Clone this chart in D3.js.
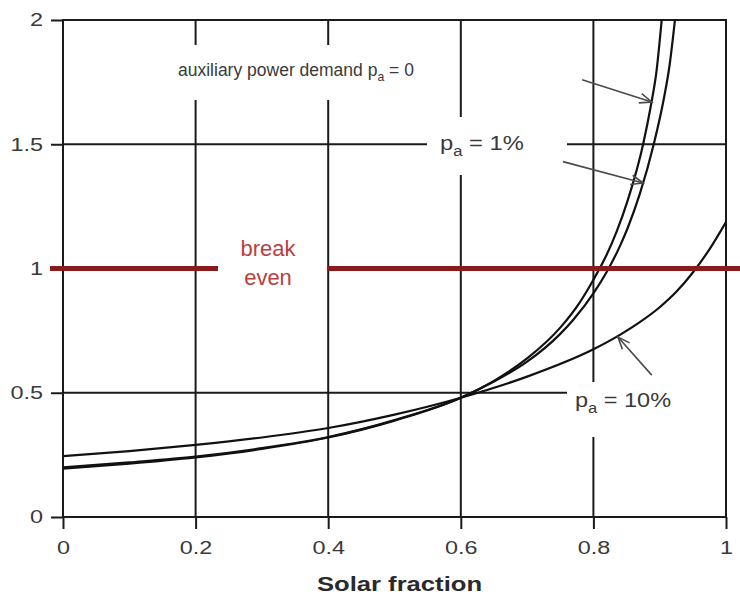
<!DOCTYPE html>
<html>
<head>
<meta charset="utf-8">
<script src="https://cdn.jsdelivr.net/npm/d3@7/dist/d3.min.js"></script>
<style>
  body { margin: 0; background: #fff; }
  text { font-family: "Liberation Sans", Arial, sans-serif; }
</style>
</head>
<body>
<svg id="chart" width="740" height="601"></svg>
<script>
// Axis ticks
const xTicks = [0, 0.2, 0.4, 0.6, 0.8, 1];
const xTickLabels = ["0", "0.2", "0.4", "0.6", "0.8", "1"];
const yTicks = [0, 0.5, 1, 1.5, 2];
const yTickLabels = ["0", "0.5", "1", "1.5", "2"];
const xGrid = [0.2, 0.4, 0.6, 0.8];
const yGrid = [0.5, 1.5];

// Auxiliary power demand p_a = 0
const pa0Fraction = [0, 0.1, 0.2, 0.3, 0.4, 0.5, 0.6, 0.65, 0.7, 0.75, 0.78, 0.8, 0.82, 0.835, 0.852, 0.875, 0.887, 0.895, 0.903];
const pa0Ratio    = [0.195, 0.215, 0.24, 0.274, 0.32, 0.388, 0.48, 0.548, 0.638, 0.762, 0.866, 0.955, 1.055, 1.148, 1.276, 1.5, 1.66, 1.79, 2.0];

// p_a = 1 %
const pa1Fraction = [0, 0.1, 0.2, 0.3, 0.4, 0.5, 0.6, 0.65, 0.7, 0.75, 0.77, 0.8, 0.82, 0.84, 0.852, 0.87, 0.891, 0.906, 0.915, 0.923];
const pa1Ratio    = [0.2, 0.22, 0.243, 0.277, 0.322, 0.39, 0.48, 0.545, 0.625, 0.737, 0.795, 0.9, 0.986, 1.09, 1.165, 1.3, 1.5, 1.68, 1.82, 2.0];

// p_a = 10 %
const pa10Fraction = [0, 0.1, 0.2, 0.3, 0.4, 0.5, 0.6, 0.7, 0.8, 0.84, 0.87, 0.9, 0.925, 0.95, 0.975, 1];
const pa10Ratio    = [0.245, 0.265, 0.29, 0.32, 0.358, 0.412, 0.48, 0.565, 0.675, 0.733, 0.784, 0.844, 0.906, 0.984, 1.077, 1.187];

// Break-even level
const breakEven = 1;

// Arrows pointing from the labels to their curves: [fromX, fromY, toX, toY]
const arrowPa0  = [0.783, 1.76, 0.888, 1.67];
const arrowPa1  = [0.754, 1.43, 0.875, 1.344];
const arrowPa10 = [0.888, 0.571, 0.837, 0.724];

const svg = d3.select("#chart");
const W = 740, H = 601;
const margin = { left: 63, right: 14, top: 20, bottom: 84 };

const x = d3.scaleLinear().domain([0, 1]).range([margin.left, W - margin.right]);
const y = d3.scaleLinear().domain([0, 2]).range([H - margin.bottom, margin.top]);

const ink = "#1a1a1a";
const textGray = "#3a3a3a";

// Widen a text element horizontally while keeping its anchor
function stretch(sel, factor) {
  sel.each(function () {
    const w = this.getComputedTextLength();
    d3.select(this).attr("textLength", w * factor).attr("lengthAdjust", "spacingAndGlyphs");
  });
}

svg.append("defs").append("clipPath").attr("id", "plotClip")
  .append("rect")
  .attr("x", x(0)).attr("y", y(2))
  .attr("width", x(1) - x(0)).attr("height", y(0) - y(2));

// Gridlines
const grid = svg.append("g").attr("stroke", ink).attr("stroke-width", 2);
grid.selectAll("line.vx").data(xGrid).join("line")
  .attr("x1", d => x(d)).attr("x2", d => x(d))
  .attr("y1", y(0)).attr("y2", y(2));
grid.selectAll("line.hy").data(yGrid).join("line")
  .attr("x1", x(0)).attr("x2", x(1))
  .attr("y1", d => y(d)).attr("y2", d => y(d));

// White boxes behind the curve labels
const boxes = [
  [170, 45, 255, 55],
  [427, 117, 140, 58],
  [567, 382, x(1) - 567, 55]
];
svg.append("g").selectAll("rect").data(boxes).join("rect")
  .attr("x", d => d[0]).attr("y", d => d[1])
  .attr("width", d => d[2]).attr("height", d => d[3])
  .attr("fill", "#fff");

// Axes (ticks + labels)
const yAxis = d3.axisLeft(y).tickValues(yTicks)
  .tickFormat((d, i) => yTickLabels[i]).tickSize(12).tickSizeOuter(0).tickPadding(8);
const gy = svg.append("g").attr("transform", `translate(${x(0)},0)`).call(yAxis);
const xAxis = d3.axisBottom(x).tickValues(xTicks)
  .tickFormat((d, i) => xTickLabels[i]).tickSize(12).tickSizeOuter(0).tickPadding(9);
const gx = svg.append("g").attr("transform", `translate(0,${y(0)})`).call(xAxis);
[gx, gy].forEach(g => {
  g.select(".domain").remove();
  g.selectAll(".tick line").attr("stroke", ink).attr("stroke-width", 2);
  g.selectAll(".tick text").attr("fill", textGray)
    .style("font-size", "18px").style("font-family", "Liberation Sans, Arial, sans-serif");
  stretch(g.selectAll(".tick text"), 1.3);
});
gx.selectAll(".tick text").attr("dy", "0.9em");

// Frame
svg.append("rect")
  .attr("x", x(0)).attr("y", y(2))
  .attr("width", x(1) - x(0)).attr("height", y(0) - y(2))
  .attr("fill", "none").attr("stroke", ink).attr("stroke-width", 2);

// Curves
const line = d3.line().x(d => x(d[0])).y(d => y(d[1])).curve(d3.curveMonotoneX);
const series = [
  d3.zip(pa0Fraction, pa0Ratio),
  d3.zip(pa1Fraction, pa1Ratio),
  d3.zip(pa10Fraction, pa10Ratio)
];
svg.append("g").attr("clip-path", "url(#plotClip)")
  .selectAll("path").data(series).join("path")
  .attr("d", line)
  .attr("fill", "none").attr("stroke", "#111").attr("stroke-width", 2.2);

// Break-even line with a gap for its label
svg.append("line")
  .attr("x1", x(0) - 13).attr("x2", W)
  .attr("y1", y(breakEven)).attr("y2", y(breakEven))
  .attr("stroke", "#8a1b1d").attr("stroke-width", 5);
svg.append("rect")
  .attr("x", 218).attr("y", y(breakEven) - 6).attr("width", 109).attr("height", 12)
  .attr("fill", "#fff");
const be = svg.append("text").attr("text-anchor", "middle")
  .attr("fill", "#b8403f").style("font-size", "22px");
be.append("tspan").attr("x", 268).attr("y", 256).text("break");
be.append("tspan").attr("x", 268).attr("y", 285).text("even");

// Arrows
const arrowColor = "#4a4a4a";
function arrow(a) {
  const x1 = x(a[0]), y1 = y(a[1]), x2 = x(a[2]), y2 = y(a[3]);
  const ang = Math.atan2(y2 - y1, x2 - x1);
  const len = 13, spread = 0.38;
  const g = svg.append("g").attr("stroke", arrowColor).attr("stroke-width", 1.6).attr("fill", "none");
  g.append("line").attr("x1", x1).attr("y1", y1).attr("x2", x2).attr("y2", y2);
  const p1 = [x2 - len * Math.cos(ang - spread), y2 - len * Math.sin(ang - spread)];
  const p2 = [x2 - len * Math.cos(ang + spread), y2 - len * Math.sin(ang + spread)];
  g.append("path").attr("d", `M${p1[0]},${p1[1]}L${x2},${y2}L${p2[0]},${p2[1]}`);
}
[arrowPa0, arrowPa1, arrowPa10].forEach(arrow);

// Curve labels
function paLabel(px, py, size, prefix, suffix, widen) {
  const t = svg.append("text").attr("x", px).attr("y", py)
    .attr("fill", textGray).style("font-size", size + "px");
  t.append("tspan").text(prefix + "p");
  t.append("tspan").attr("dy", size * 0.3).style("font-size", (size * 0.7) + "px").text("a");
  t.append("tspan").attr("dy", -size * 0.3).text(suffix);
  if (widen !== 1) stretch(t, widen);
}
paLabel(178, 76, 17.5, "auxiliary power demand ", " = 0", 1);
paLabel(440, 150, 21, "", " = 1%", 1.13);
paLabel(575, 407, 21, "", " = 10%", 1.12);

// Axis title
const title = svg.append("text")
  .attr("x", (x(0) + x(1)) / 2 + 5).attr("y", 591)
  .attr("text-anchor", "middle")
  .attr("fill", "#2a2a2a")
  .style("font-size", "21px").style("font-weight", "bold")
  .text("Solar fraction");
stretch(title, 1.22);
</script>
</body>
</html>
